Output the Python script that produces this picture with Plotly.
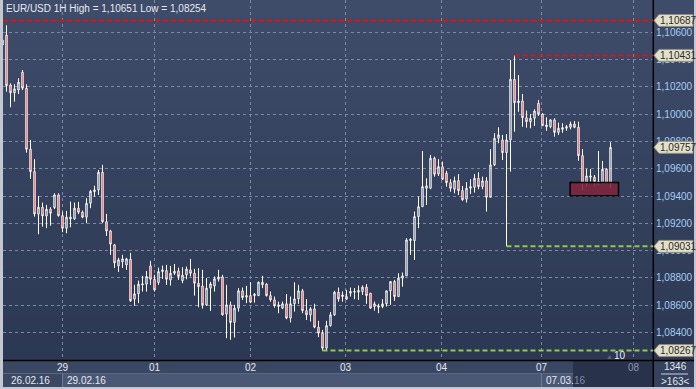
import plotly.graph_objects as go

# ---------------- data (EUR/USD, 1H bars) ----------------
open_ = [
    1.10507, 1.10580, 1.10214, 1.10157, 1.10177, 1.10307, 1.10190, 1.09743, 1.09579, 1.09267,
    1.09318, 1.09254, 1.09303, 1.09315, 1.09408, 1.09256, 1.09164, 1.09232, 1.09232, 1.09311,
    1.09281, 1.09245, 1.09347, 1.09432, 1.09445, 1.09574, 1.09212, 1.09144, 1.09042, 1.08888,
    1.08917, 1.08895, 1.08937, 1.08644, 1.08683, 1.08749, 1.08754, 1.08888, 1.08790, 1.08766,
    1.08846, 1.08853, 1.08785, 1.08834, 1.08851, 1.08780, 1.08822, 1.08859, 1.08834, 1.08761,
    1.08741, 1.08602, 1.08725, 1.08741, 1.08790, 1.08807, 1.08534, 1.08602, 1.08473, 1.08578,
    1.08705, 1.08659, 1.08670, 1.08670, 1.08670, 1.08749, 1.08754, 1.08670, 1.08639, 1.08590,
    1.08578, 1.08610, 1.08505, 1.08610, 1.08646, 1.08705, 1.08560, 1.08529, 1.08573, 1.08439,
    1.08395, 1.08285, 1.08450, 1.08529, 1.08695, 1.08663, 1.08663, 1.08688, 1.08695, 1.08695,
    1.08700, 1.08732, 1.08688, 1.08590, 1.08595, 1.08590, 1.08610, 1.08705, 1.08773, 1.08663,
    1.08798, 1.08815, 1.09073, 1.09073, 1.09249, 1.09322, 1.09457, 1.09457, 1.09677, 1.09562,
    1.09615, 1.09567, 1.09498, 1.09450, 1.09513, 1.09440, 1.09377, 1.09457, 1.09464, 1.09530,
    1.09469, 1.09511, 1.09391, 1.09628, 1.09823, 1.09811, 1.09718, 1.09811, 1.10256, 1.10084,
    1.10097, 1.09974, 1.09945, 1.09970, 1.10080, 1.10001, 1.09908, 1.09908, 1.09958, 1.09867,
    1.09889, 1.09897, 1.09904, 1.09928, 1.09904, 1.09696, 1.09494, 1.09538, 1.09538, 1.09494,
    1.09494, 1.09596, 1.09494,
]
high = [
    1.10580, 1.10651, 1.10226, 1.10219, 1.10263, 1.10324, 1.10219, 1.09811, 1.09670, 1.09401,
    1.09352, 1.09335, 1.09318, 1.09420, 1.09420, 1.09286, 1.09291, 1.09359, 1.09352, 1.09357,
    1.09293, 1.09384, 1.09445, 1.09476, 1.09591, 1.09628, 1.09269, 1.09152, 1.09049, 1.08947,
    1.08969, 1.08947, 1.08983, 1.08749, 1.08780, 1.08815, 1.08851, 1.08925, 1.08822, 1.08875,
    1.08890, 1.08895, 1.08888, 1.08902, 1.08875, 1.08878, 1.08883, 1.08939, 1.08866, 1.08871,
    1.08859, 1.08798, 1.08771, 1.08810, 1.08859, 1.08822, 1.08749, 1.08626, 1.08602, 1.08725,
    1.08729, 1.08741, 1.08768, 1.08688, 1.08773, 1.08815, 1.08761, 1.08700, 1.08663, 1.08626,
    1.08626, 1.08681, 1.08663, 1.08768, 1.08749, 1.08719, 1.08644, 1.08585, 1.08610, 1.08485,
    1.08419, 1.08485, 1.08549, 1.08705, 1.08729, 1.08700, 1.08712, 1.08729, 1.08725, 1.08744,
    1.08744, 1.08754, 1.08688, 1.08626, 1.08610, 1.08644, 1.08705, 1.08773, 1.08785, 1.08834,
    1.08839, 1.09091, 1.09091, 1.09286, 1.09396, 1.09730, 1.09530, 1.09701, 1.09689, 1.09670,
    1.09652, 1.09584, 1.09523, 1.09542, 1.09560, 1.09474, 1.09501, 1.09523, 1.09560, 1.09574,
    1.09542, 1.09538, 1.09743, 1.09860, 1.09904, 1.09848, 1.09853, 1.10397, 1.10431, 1.10287,
    1.10148, 1.10026, 1.10001, 1.10036, 1.10104, 1.10007, 1.09977, 1.09963, 1.09970, 1.09938,
    1.09933, 1.09921, 1.09945, 1.09950, 1.09945, 1.09745, 1.09598, 1.09598, 1.09554, 1.09730,
    1.09657, 1.09604, 1.09794,
]
low = [
    1.10500, 1.10165, 1.10051, 1.10092, 1.10148, 1.10177, 1.09718, 1.09525, 1.09249, 1.09120,
    1.09176, 1.09164, 1.09183, 1.09305, 1.09249, 1.09135, 1.09127, 1.09171, 1.09225, 1.09267,
    1.09237, 1.09201, 1.09311, 1.09396, 1.09408, 1.09201, 1.09108, 1.08969, 1.08873, 1.08844,
    1.08873, 1.08859, 1.08624, 1.08595, 1.08615, 1.08700, 1.08700, 1.08749, 1.08700, 1.08749,
    1.08793, 1.08749, 1.08744, 1.08822, 1.08785, 1.08761, 1.08790, 1.08810, 1.08670, 1.08585,
    1.08575, 1.08595, 1.08558, 1.08700, 1.08773, 1.08524, 1.08358, 1.08346, 1.08363, 1.08553,
    1.08639, 1.08615, 1.08615, 1.08619, 1.08670, 1.08725, 1.08663, 1.08626, 1.08582, 1.08541,
    1.08571, 1.08497, 1.08473, 1.08553, 1.08610, 1.08541, 1.08492, 1.08480, 1.08431, 1.08366,
    1.08267, 1.08270, 1.08443, 1.08522, 1.08626, 1.08626, 1.08639, 1.08663, 1.08644, 1.08639,
    1.08675, 1.08610, 1.08573, 1.08560, 1.08541, 1.08578, 1.08590, 1.08602, 1.08632, 1.08663,
    1.08736, 1.08815, 1.08969, 1.08932, 1.09164, 1.09322, 1.09335, 1.09450, 1.09542, 1.09547,
    1.09518, 1.09469, 1.09432, 1.09420, 1.09408, 1.09366, 1.09352, 1.09415, 1.09425, 1.09450,
    1.09450, 1.09286, 1.09391, 1.09620, 1.09787, 1.09664, 1.09031, 1.09579, 1.09872, 1.10018,
    1.09908, 1.09901, 1.09897, 1.09914, 1.09987, 1.09914, 1.09879, 1.09897, 1.09835, 1.09848,
    1.09864, 1.09879, 1.09889, 1.09897, 1.09659, 1.09440, 1.09469, 1.09506, 1.09469, 1.09476,
    1.09486, 1.09489, 1.09457,
]
close = [
    1.10544, 1.10209, 1.10157, 1.10185, 1.10234, 1.10190, 1.09743, 1.09579, 1.09269, 1.09318,
    1.09254, 1.09303, 1.09274, 1.09408, 1.09256, 1.09164, 1.09245, 1.09245, 1.09311, 1.09281,
    1.09245, 1.09347, 1.09435, 1.09445, 1.09574, 1.09212, 1.09144, 1.09047, 1.08910, 1.08932,
    1.08939, 1.08939, 1.08632, 1.08683, 1.08754, 1.08756, 1.08810, 1.08790, 1.08712, 1.08846,
    1.08859, 1.08790, 1.08834, 1.08849, 1.08810, 1.08820, 1.08864, 1.08834, 1.08761, 1.08736,
    1.08602, 1.08725, 1.08756, 1.08793, 1.08807, 1.08529, 1.08602, 1.08473, 1.08578, 1.08705,
    1.08656, 1.08670, 1.08622, 1.08681, 1.08768, 1.08768, 1.08670, 1.08639, 1.08595, 1.08602,
    1.08610, 1.08505, 1.08610, 1.08646, 1.08705, 1.08560, 1.08529, 1.08573, 1.08439, 1.08395,
    1.08285, 1.08450, 1.08529, 1.08695, 1.08646, 1.08675, 1.08644, 1.08700, 1.08700, 1.08707,
    1.08732, 1.08670, 1.08578, 1.08610, 1.08585, 1.08610, 1.08705, 1.08773, 1.08663, 1.08798,
    1.08815, 1.09078, 1.09084, 1.09249, 1.09322, 1.09469, 1.09474, 1.09677, 1.09560, 1.09615,
    1.09523, 1.09498, 1.09457, 1.09513, 1.09440, 1.09372, 1.09457, 1.09469, 1.09530, 1.09469,
    1.09511, 1.09391, 1.09628, 1.09823, 1.09848, 1.09718, 1.09811, 1.10256, 1.10084, 1.10097,
    1.09974, 1.09945, 1.09970, 1.10023, 1.10001, 1.09916, 1.09921, 1.09958, 1.09867, 1.09897,
    1.09901, 1.09908, 1.09928, 1.09904, 1.09696, 1.09494, 1.09547, 1.09547, 1.09506, 1.09506,
    1.09596, 1.09494, 1.09757,
]
bar_index = list(range(len(open_)))

day_ticks = [15, 38, 62, 85.75, 109.75, 134.75, 157.75]
day_labels = ["29", "01", "02", "03", "04", "07", "08"]
date_labels = ["26.02.16", "29.02.16", "07.03.16"]
price_ticks = [1.084, 1.086, 1.088, 1.090, 1.092, 1.094, 1.096, 1.098, 1.100, 1.102, 1.104, 1.106]

# horizontal levels: value, start bar (None = whole chart), colour
level_values = [1.10687, 1.10431, 1.09031, 1.08267]
level_start = [None, 128, 126, 80]
level_kind = ["red", "red", "green", "green"]
flag_values = [1.10687, 1.10431, 1.09757, 1.09031, 1.08267]

zone_bars = [141.9, 154.0]
zone_prices = [1.09402, 1.09500]

title_text = "EUR/USD 1H High = 1,10651 Low = 1,08254"
info_top, info_bottom = "1346", ">163<"
marker_text = "10"

# ---------------- layout helpers ----------------
W, H = 696, 389
ML, MR, MT, MB = 3, 43, 0, 29
PW, PH = W - ML - MR, H - MT - MB
X_RANGE = [0.125, 162.625]          # 4 px per bar, bar centres on pixel centres
Y_RANGE = [1.08198, 1.10837]
FONT = "Liberation Sans, Arial, sans-serif"
FS = 10


def pxx(xp):
    return (xp - ML) / PW


def pxy(yp):
    return (MT + PH - yp) / PH


fig = go.Figure()
fig.add_trace(go.Candlestick(
    x=bar_index, open=open_, high=high, low=low, close=close,
    increasing=dict(line=dict(color="#ffffff", width=1), fillcolor="rgba(0,0,0,0)"),
    decreasing=dict(line=dict(color="#ffffff", width=1), fillcolor="#f00000"),
    whiskerwidth=0, hoverinfo="skip", showlegend=False,
))

shapes = []
# background gradient (plot + right price panel)
N = 40
top_c, bot_c = (62, 76, 106), (44, 56, 83)
for i in range(N):
    t = i / (N - 1)
    c = tuple(round(top_c[j] + (bot_c[j] - top_c[j]) * t) for j in range(3))
    shapes.append(dict(type="rect", xref="paper", yref="paper", layer="below",
                       x0=pxx(3), x1=pxx(694), y0=pxy(i * PH / N), y1=pxy((i + 1) * PH / N + 0.5),
                       fillcolor="rgb(%d,%d,%d)" % c, line=dict(width=0)))


def prect(x0, y0, x1, y1, color, layer="below"):
    shapes.append(dict(type="rect", xref="paper", yref="paper", layer=layer,
                       x0=pxx(x0), x1=pxx(x1), y0=pxy(y0), y1=pxy(y1),
                       fillcolor=color, line=dict(width=0)))


def pline(x0, y0, x1, y1, color, width=1, layer="below"):
    shapes.append(dict(type="line", xref="paper", yref="paper", layer=layer,
                       x0=pxx(x0), x1=pxx(x1), y0=pxy(y0), y1=pxy(y1),
                       line=dict(color=color, width=width)))


# bottom time panel
prect(3, 360, 573, 373.5, "#3a4762")
prect(3, 373.5, 62, 387, "#3b4864")
prect(62, 373.5, 573, 387, "#4b5875")
prect(573, 360, 653, 387, "#28334b")
prect(653, 360, 694, 387, "#36425d")
pline(3, 373.5, 573, 373.5, "#5a6782")
pline(62.5, 373.5, 62.5, 387, "#6f7b94")
pline(541.5, 373.5, 541.5, 387, "#6f7b94")
pline(661, 374, 688, 374, "#c8d0dc")
# frame lines
pline(3, 360.5, 694, 360.5, "#000000", 1.5, "above")
pline(653.3, 0, 653.3, 387, "#000000", 1.5, "above")

# level lines
for val, start, kind in zip(level_values, level_start, level_kind):
    col = "#e01010" if kind == "red" else "#94c83c"
    x0 = X_RANGE[0] if start is None else start
    shapes.append(dict(type="line", xref="x", yref="y", layer="above",
                       x0=x0, x1=X_RANGE[1], y0=val, y1=val,
                       line=dict(color=col, width=2, dash="5px,3px")))

# zone box
shapes.append(dict(type="rect", xref="x", yref="y", layer="above",
                   x0=zone_bars[0], x1=zone_bars[1], y0=zone_prices[0], y1=zone_prices[1],
                   fillcolor="rgba(128,36,62,0.88)", line=dict(color="#000000", width=1.5)))

# price flags
for v in flag_values:
    shapes.append(dict(type="path", xref="paper", yref="y", layer="above",
                       xsizemode="pixel", ysizemode="pixel", xanchor=1, yanchor=v,
                       path="M1,0 L6,6 L40,6 L40,-6 L6,-6 Z",
                       fillcolor="#e3e0c9", line=dict(color="#8e8e82", width=1)))

annotations = []
annotations.append(dict(xref="paper", yref="paper", x=pxx(4), y=pxy(8), xanchor="left", yanchor="middle",
                        text=title_text, showarrow=False,
                        font=dict(family=FONT, size=FS, color="#e4eaf2")))
for v in flag_values:
    annotations.append(dict(xref="paper", yref="y", x=1, y=v, xanchor="left", yanchor="middle",
                            xshift=5, text=("%.5f" % v).replace(".", ","), showarrow=False,
                            font=dict(family=FONT, size=FS, color="#2a2a2a")))
for t, lab in zip(day_ticks, day_labels):
    annotations.append(dict(xref="x", yref="paper", x=t, y=pxy(367.5), xanchor="center", yanchor="middle",
                            text=lab, showarrow=False,
                            font=dict(family=FONT, size=FS, color="#8593ab" if lab == "08" else "#e2e8f0")))
annotations.append(dict(xref="paper", yref="paper", x=pxx(9), y=pxy(380.5), xanchor="left", yanchor="middle",
                        text=date_labels[0], showarrow=False, font=dict(family=FONT, size=FS, color="#e2e8f0")))
annotations.append(dict(xref="paper", yref="paper", x=pxx(65), y=pxy(380.5), xanchor="left", yanchor="middle",
                        text=date_labels[1], showarrow=False, font=dict(family=FONT, size=FS, color="#e2e8f0")))
annotations.append(dict(xref="paper", yref="paper", x=pxx(544), y=pxy(380.5), xanchor="left", yanchor="middle",
                        text=date_labels[2][:6], showarrow=False, font=dict(family=FONT, size=FS, color="#e2e8f0")))
annotations.append(dict(xref="paper", yref="paper", x=pxx(571.5), y=pxy(380.5), xanchor="left", yanchor="middle",
                        text=date_labels[2][6:], showarrow=False, font=dict(family=FONT, size=FS, color="#7f8ca4")))
annotations.append(dict(xref="paper", yref="paper", x=pxx(675), y=pxy(366.5), xanchor="center", yanchor="middle",
                        text=info_top, showarrow=False, font=dict(family=FONT, size=FS, color="#e2e8f0")))
annotations.append(dict(xref="paper", yref="paper", x=pxx(675), y=pxy(381), xanchor="center", yanchor="middle",
                        text=info_bottom, showarrow=False, font=dict(family=FONT, size=FS, color="#e2e8f0")))
annotations.append(dict(xref="paper", yref="paper", x=pxx(609), y=pxy(356.5), xanchor="center", yanchor="middle",
                        text="▲", showarrow=False, font=dict(family=FONT, size=7, color="#5c6679")))
annotations.append(dict(xref="paper", yref="paper", x=pxx(620), y=pxy(355), xanchor="center", yanchor="middle",
                        text=marker_text, showarrow=False, font=dict(family=FONT, size=FS, color="#e8eef6")))

fig.update_layout(
    width=W, height=H, margin=dict(l=ML, r=MR, t=MT, b=MB, pad=0),
    paper_bgcolor="#c3c7cf", plot_bgcolor="rgba(0,0,0,0)",
    separators=",.", boxgap=0.5,
    shapes=shapes, annotations=annotations, showlegend=False,
    xaxis=dict(range=X_RANGE, rangeslider=dict(visible=False), tickvals=day_ticks,
               showticklabels=False, ticks="", showgrid=True, gridcolor="#7a88a6", gridwidth=1,
               griddash="3px,3px", zeroline=False, showline=False, fixedrange=True),
    yaxis=dict(range=Y_RANGE, side="right", tickvals=price_ticks, tickformat=".5f",
               tickfont=dict(family=FONT, size=FS, color="#a6cdf3"), ticks="",
               ticklabelstandoff=2,
               showgrid=True, gridcolor="#7a88a6", gridwidth=1, griddash="3px,3px",
               zeroline=False, showline=False, fixedrange=True),
)

fig.write_html("out.html")
